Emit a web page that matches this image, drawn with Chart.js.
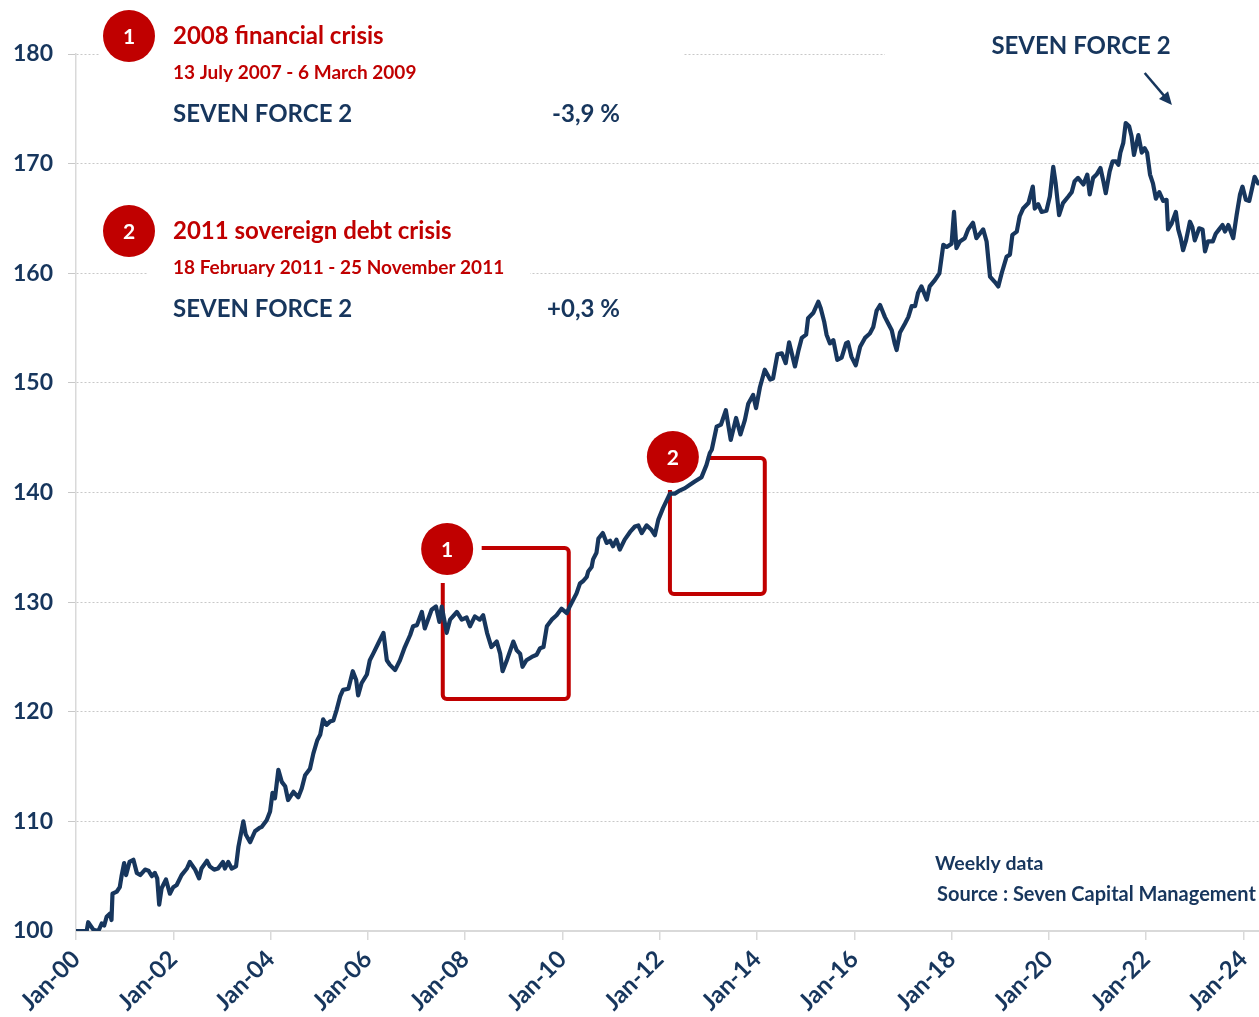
<!DOCTYPE html>
<html>
<head>
<meta charset="utf-8">
<script src="https://cdn.jsdelivr.net/npm/chart.js@4.4.0/dist/chart.umd.min.js"></script>
<style>
  html, body { margin: 0; padding: 0; background: #ffffff; }
  #wrap { width: 1259px; height: 1017px; position: relative; }
</style>
</head>
<body>
<div id="wrap"><canvas id="c" width="1259" height="1017"></canvas></div>
<script>
// ---- DATA ----
const dates = [
2000.01,2000.22,2000.25,2000.36,2000.46,2000.53,2000.58,2000.63,2000.70,2000.73,2000.75,2000.84,2000.90,2000.94,2000.99,
2001.03,2001.10,2001.18,2001.25,2001.32,2001.42,2001.49,2001.56,2001.62,2001.67,2001.71,2001.76,2001.85,2001.93,
2002.00,2002.07,2002.17,2002.28,2002.34,2002.45,2002.53,2002.58,2002.69,2002.75,2002.84,2002.92,
2003.02,2003.06,2003.13,2003.20,2003.29,2003.34,2003.44,2003.49,2003.58,2003.68,2003.77,2003.82,2003.92,2003.99,
2004.04,2004.09,2004.16,2004.23,2004.30,2004.36,2004.47,2004.57,2004.64,2004.71,2004.81,2004.88,2004.96,
2005.02,2005.08,2005.15,2005.22,2005.29,2005.36,2005.43,2005.49,2005.60,2005.69,2005.76,2005.80,2005.87,2005.98,
2006.04,2006.11,2006.21,2006.32,2006.39,2006.45,2006.56,2006.66,2006.76,2006.87,2006.93,
2007.01,2007.11,2007.17,2007.31,2007.40,2007.47,2007.52,2007.62,2007.69,2007.83,2007.93,
2008.03,2008.10,2008.20,2008.30,2008.37,2008.45,2008.54,2008.65,2008.72,2008.77,2008.85,2008.99,
2009.06,2009.13,2009.18,2009.26,2009.37,2009.47,2009.54,2009.61,2009.68,2009.78,2009.88,2009.98,
2010.09,2010.15,2010.29,2010.36,2010.42,2010.50,2010.53,2010.60,2010.63,2010.70,2010.74,2010.83,2010.91,2010.98,
2011.04,2011.11,2011.18,2011.28,2011.39,2011.49,2011.56,2011.63,2011.73,2011.83,2011.90,2011.97,
2012.07,2012.21,2012.31,2012.42,2012.52,2012.62,2012.72,2012.86,2012.96,
2013.03,2013.07,2013.17,2013.26,2013.36,2013.46,2013.57,2013.66,2013.75,2013.82,2013.92,2013.98,
2014.06,2014.16,2014.27,2014.33,2014.42,2014.51,2014.59,2014.66,2014.78,2014.85,2014.92,
2015.01,2015.05,2015.16,2015.26,2015.31,2015.38,2015.43,2015.50,2015.57,2015.65,2015.74,2015.83,2015.87,2015.94,
2016.03,2016.12,2016.22,2016.32,2016.39,2016.46,2016.53,2016.63,2016.70,2016.77,2016.83,2016.87,2016.94,
2017.04,2017.11,2017.18,2017.25,2017.31,2017.38,2017.49,2017.55,2017.66,2017.75,2017.83,2017.90,
2018.00,2018.05,2018.10,2018.17,2018.27,2018.34,2018.44,2018.51,2018.58,2018.65,2018.72,2018.79,2018.89,2018.96,
2019.03,2019.13,2019.20,2019.25,2019.34,2019.40,2019.47,2019.58,2019.67,2019.71,2019.78,2019.85,2019.95,
2020.02,2020.09,2020.14,2020.21,2020.29,2020.40,2020.47,2020.53,2020.60,2020.71,2020.79,2020.84,2020.91,2020.98,
2021.06,2021.12,2021.17,2021.25,2021.31,2021.38,2021.43,2021.47,2021.53,2021.58,2021.65,2021.70,2021.75,2021.84,2021.91,2021.97,
2022.02,2022.08,2022.14,2022.20,2022.27,2022.35,2022.42,2022.45,2022.52,2022.61,2022.66,2022.71,2022.76,2022.82,2022.90,2022.95,
2023.00,2023.09,2023.16,2023.21,2023.27,2023.37,2023.43,2023.50,2023.57,2023.62,2023.69,2023.79,2023.86,2023.93,2023.98,
2024.05,2024.12,2024.17,2024.23,2024.30
];
const values = [
100.0,100.0,100.8,100.1,100.0,100.7,100.5,101.3,101.6,101.0,103.4,103.6,104.0,105.1,106.2,
105.1,106.3,106.5,105.3,105.1,105.6,105.5,105.0,105.3,104.8,102.4,103.9,104.7,103.4,
104.0,104.2,105.1,105.7,106.3,105.6,104.8,105.7,106.4,105.9,105.6,105.7,
106.3,105.7,106.3,105.7,105.9,107.7,110.0,108.8,108.1,109.1,109.4,109.5,110.1,110.9,
112.6,112.1,114.7,113.6,113.2,111.95,112.7,112.2,113.0,114.2,114.8,116.2,117.4,
117.9,119.3,118.8,119.1,119.2,120.2,121.4,122.0,122.1,123.7,122.9,121.5,122.6,123.4,
124.7,125.3,126.2,127.2,124.7,124.3,123.8,124.7,125.9,127.0,127.8,
127.9,129.1,127.6,129.3,129.6,128.2,129.6,127.2,128.4,129.1,128.4,
128.6,127.8,128.7,128.4,128.8,127.2,125.9,126.4,125.3,123.7,124.6,126.4,
125.6,125.3,124.1,124.7,125.0,125.2,125.8,125.9,127.8,128.4,128.8,129.4,
129.0,129.6,130.8,131.7,131.9,132.3,132.8,133.2,133.9,134.5,135.8,136.3,135.4,135.6,
135.1,135.7,134.8,135.7,136.4,136.9,137.0,136.3,137.0,136.6,136.1,137.5,
138.6,139.9,139.9,140.2,140.4,140.7,141.0,141.4,142.5,
143.6,143.9,146.0,146.2,147.5,144.8,146.8,145.3,146.6,148.1,148.9,147.7,
149.6,151.2,150.3,150.4,152.6,152.7,151.8,153.7,151.5,152.9,154.1,
154.4,155.9,156.4,157.4,156.8,155.6,154.4,153.6,153.9,152.1,152.3,153.6,153.7,152.4,
151.6,153.3,154.1,154.5,155.1,156.6,157.1,156.0,155.4,154.8,153.6,153.0,154.6,
155.4,156.0,157.0,157.0,158.2,158.8,157.6,158.8,159.4,160.0,162.6,162.4,
162.7,165.6,162.3,162.9,163.2,164.0,164.6,163.2,163.6,164.0,162.9,159.7,159.2,158.8,
160.0,161.5,161.7,163.5,163.8,165.2,165.9,166.4,167.9,165.9,166.3,165.6,165.7,
167.0,169.7,168.2,165.3,166.4,167.0,167.4,168.4,168.7,168.1,169.0,167.2,168.7,169.0,
169.6,168.4,167.3,169.3,170.2,170.2,169.9,171.0,171.9,173.7,173.4,172.5,170.8,172.6,171.0,171.4,
171.0,169.0,168.2,166.8,167.4,166.6,166.7,164.0,164.5,165.6,164.0,163.2,162.1,163.0,164.7,164.2,
163.0,164.1,164.0,162.0,162.9,162.9,163.6,164.0,164.4,163.8,164.4,163.2,165.3,167.2,167.9,
166.7,166.6,167.6,168.8,168.2
];
const xTickYears  = [2000,2002,2004,2006,2008,2010,2012,2014,2016,2018,2020,2022,2024];
const xTickLabels = ['Jan-00','Jan-02','Jan-04','Jan-06','Jan-08','Jan-10','Jan-12','Jan-14','Jan-16','Jan-18','Jan-20','Jan-22','Jan-24'];
const yTickValues = [100,110,120,130,140,150,160,170,180];

// crisis windows drawn on the chart (data units)
const crisisMarks = [
  { label: '1', x0: 2007.54, x1: 2010.13, y0: 121.16, y1: 134.94, gapX: 2008.34, gapY: 131.74, cx: 2007.63, cy: 134.85 },
  { label: '2', x0: 2012.21, x1: 2014.16, y0: 130.74, y1: 143.15, gapX: 2012.97, gapY: 140.23, cx: 2012.27, cy: 143.24 }
];
const arrowFrom = { x: 2021.97, y: 178.27 };
const arrowTo   = { x: 2022.53, y: 175.35 };

const legendBlocks = [
  { num: '1', title: '2008 financial crisis', period: '13 July 2007 - 6 March 2009', fund: 'SEVEN FORCE 2', perf: '-3,9 %' },
  { num: '2', title: '2011 sovereign debt crisis', period: '18 February 2011 - 25 November 2011', fund: 'SEVEN FORCE 2', perf: '+0,3 %' }
];

// ---- STYLE ----
const NAVY = '#17365d';
const RED = '#c00000';
const FONT = 'Lato, "Open Sans", sans-serif';
const W = 'bold';

const points = dates.map((d, i) => ({ x: d, y: values[i] }));

function circle(ctx, x, y, r, txt, fs) {
  ctx.save();
  ctx.beginPath();
  ctx.arc(x, y, r + 4, 0, Math.PI * 2);
  ctx.fillStyle = '#ffffff';
  ctx.fill();
  ctx.beginPath();
  ctx.arc(x, y, r, 0, Math.PI * 2);
  ctx.fillStyle = RED;
  ctx.fill();
  ctx.fillStyle = '#ffffff';
  ctx.font = W + ' ' + fs + 'px ' + FONT;
  ctx.textAlign = 'center';
  ctx.textBaseline = 'middle';
  ctx.fillText(txt, x, y + 1);
  ctx.restore();
}

function text(ctx, t, x, y, size, color, align) {
  ctx.save();
  ctx.font = W + ' ' + size + 'px ' + FONT;
  ctx.fillStyle = color;
  ctx.textAlign = align || 'left';
  ctx.textBaseline = 'middle';
  ctx.fillText(t, x, y);
  ctx.restore();
}

const annotations = {
  id: 'annotations',
  beforeDatasetsDraw(chart) {
    const ctx = chart.ctx;
    ctx.save();
    ctx.fillStyle = '#ffffff';
    ctx.fillRect(100, 0, 584, 140);
    ctx.fillRect(147, 195, 383, 140);
    ctx.fillRect(885, 0, 374, 95);
    ctx.restore();
    const xs = chart.scales.x, ys = chart.scales.y;
    ctx.save();
    ctx.strokeStyle = RED;
    ctx.lineWidth = 4;
    ctx.lineJoin = 'round';
    ctx.lineCap = 'butt';
    crisisMarks.forEach(m => {
      const L = xs.getPixelForValue(m.x0), R = xs.getPixelForValue(m.x1);
      const B = ys.getPixelForValue(m.y0), T = ys.getPixelForValue(m.y1);
      const gx = xs.getPixelForValue(m.gapX), gy = ys.getPixelForValue(m.gapY);
      const r = 4;
      ctx.beginPath();
      ctx.moveTo(L, gy);
      ctx.lineTo(L, B - r);
      ctx.arcTo(L, B, L + r, B, r);
      ctx.lineTo(R - r, B);
      ctx.arcTo(R, B, R, B - r, r);
      ctx.lineTo(R, T + r);
      ctx.arcTo(R, T, R - r, T, r);
      ctx.lineTo(gx, T);
      ctx.stroke();
    });
    ctx.restore();
  },
  afterDatasetsDraw(chart) {
    const ctx = chart.ctx;
    const xs = chart.scales.x, ys = chart.scales.y;
    crisisMarks.forEach(m => {
      circle(ctx, xs.getPixelForValue(m.cx), ys.getPixelForValue(m.cy), 26, m.label, 21);
    });
    const ax0 = xs.getPixelForValue(arrowFrom.x), ay0 = ys.getPixelForValue(arrowFrom.y);
    const ax1 = xs.getPixelForValue(arrowTo.x), ay1 = ys.getPixelForValue(arrowTo.y);
    const ang = Math.atan2(ay1 - ay0, ax1 - ax0);
    ctx.save();
    ctx.strokeStyle = NAVY; ctx.fillStyle = NAVY; ctx.lineWidth = 2.5;
    ctx.beginPath();
    ctx.moveTo(ax0, ay0);
    ctx.lineTo(ax1 - 8 * Math.cos(ang), ay1 - 8 * Math.sin(ang));
    ctx.stroke();
    ctx.beginPath();
    ctx.moveTo(ax1, ay1);
    ctx.lineTo(ax1 - 13 * Math.cos(ang) + 6 * Math.sin(ang), ay1 - 13 * Math.sin(ang) - 6 * Math.cos(ang));
    ctx.lineTo(ax1 - 13 * Math.cos(ang) - 6 * Math.sin(ang), ay1 - 13 * Math.sin(ang) + 6 * Math.cos(ang));
    ctx.closePath();
    ctx.fill();
    ctx.restore();

    text(ctx, 'SEVEN FORCE 2', 1081, 46, 24, NAVY, 'center');

    const tops = [36, 231];
    legendBlocks.forEach((b, i) => {
      const y = tops[i];
      circle(ctx, 129, y, 26, b.num, 21);
      text(ctx, b.title, 173, y, 24, RED);
      text(ctx, b.period, 173, y + 37, 19, RED);
      text(ctx, b.fund, 173, y + 78, 24, NAVY);
      text(ctx, b.perf, 620, y + 78, 24, NAVY, 'right');
    });

    text(ctx, 'Weekly data', 935, 864, 19.5, NAVY);
    text(ctx, 'Source : Seven Capital Management', 937, 895, 20, NAVY);
  }
};

new Chart(document.getElementById('c'), {
  type: 'line',
  data: {
    datasets: [{
      data: points,
      borderColor: NAVY,
      borderWidth: 4.2,
      pointRadius: 0,
      tension: 0,
      borderJoinStyle: 'round',
      borderCapStyle: 'round',
      fill: false
    }]
  },
  options: {
    responsive: false,
    animation: false,
    devicePixelRatio: 1,
    layout: { padding: { top: 54, left: 0, right: 0, bottom: 0 } },
    plugins: { legend: { display: false }, tooltip: { enabled: false } },
    scales: {
      x: {
        type: 'linear',
        min: 2000,
        max: 2024.32,
        afterBuildTicks(scale) { scale.ticks = xTickYears.map(v => ({ value: v })); },
        afterFit(scale) { scale.height = 86; scale.paddingLeft = 0; scale.paddingRight = 0; },
        ticks: {
          autoSkip: false,
          maxRotation: 45,
          minRotation: 45,
          padding: 5,
          color: NAVY,
          font: { family: FONT, size: 24, weight: W },
          callback(v) { const i = xTickYears.indexOf(v); return i >= 0 ? xTickLabels[i] : ''; }
        },
        grid: { drawOnChartArea: false, drawTicks: true, tickLength: 9, color: '#d9d9d9', lineWidth: 1.5 },
        border: { display: true, color: '#d9d9d9', width: 2 }
      },
      y: {
        type: 'linear',
        min: 100,
        max: 180,
        afterBuildTicks(scale) { scale.ticks = yTickValues.map(v => ({ value: v })); },
        afterFit(scale) { scale.width = 76; scale.paddingTop = 0; scale.paddingBottom = 0; },
        ticks: {
          padding: 15,
          color: NAVY,
          font: { family: FONT, size: 23, weight: W }
        },
        grid: {
          color: (c) => c.tick && c.tick.value === 100 ? 'rgba(0,0,0,0)' : '#c8c8c8',
          lineWidth: 1,
          drawTicks: true,
          tickLength: 8
        },
        border: { display: true, color: '#d9d9d9', width: 1.5, dash: [2, 2] }
      }
    }
  },
  plugins: [annotations]
});
</script>
</body>
</html>
